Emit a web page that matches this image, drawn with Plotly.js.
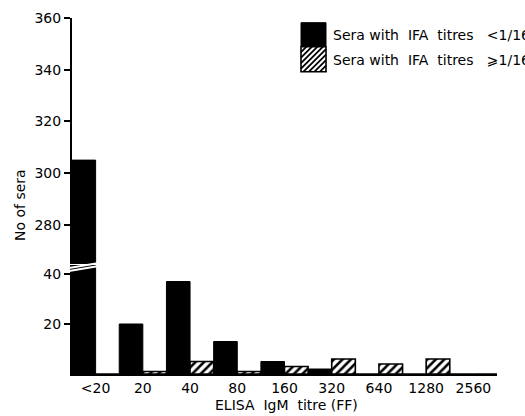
<!DOCTYPE html>
<html>
<head>
<meta charset="utf-8">
<script src="https://cdn.plot.ly/plotly-3.0.1.min.js"></script>
<style>html,body{margin:0;padding:0;background:#fff;}#chart{width:525px;height:416px;}</style>
</head>
<body>
<div id="chart"></div>
<script>
// ---- data ----
var categories = ["<20", "20", "40", "80", "160", "320", "640", "1280", "2560"];
var seraIfaLow = [305, 20, 37, 13, 5, 2, 0, 0, 0];      // Sera with IFA titres <1/16
var seraIfaHigh = [0, 1, 5, 1, 3, 6, 4, 6, 0];          // Sera with IFA titres >=1/16
var lowerTicks = [20, 40];
var upperTicks = [280, 300, 320, 340, 360];
var NB = "\u00a0";
var legendLabels = ["Sera with" + NB + NB + "IFA" + NB + NB + "titres" + NB + NB + NB + "<1/16",
                    "Sera with" + NB + NB + "IFA" + NB + NB + "titres" + NB + NB + NB + "\u2a7e1/16"];

// ---- layout geometry (pixels) ----
var W = 525, H = 416;
var L = 72, R = 497, T = 18, B = 374;
function px(x) { return (x - L) / (R - L); }
function py(y) { return (B - y) / (B - T); }

var FONT = "DejaVu Sans";
var lowerTop = 265, upperBottom = 264;

function blackBars(axis) {
  return { type: "bar", x: categories, y: seraIfaLow, xaxis: "x", yaxis: axis,
    marker: { color: "black", line: { color: "black", width: 1 } },
    offsetgroup: "a", hoverinfo: "none" };
}
function hatchBars(axis) {
  return { type: "bar", x: categories, y: seraIfaHigh, xaxis: "x", yaxis: axis,
    marker: { color: "white", line: { color: "black", width: 1.6 },
      pattern: { shape: "/", size: 6, solidity: 0.42, fgcolor: "black", bgcolor: "white" } },
    offsetgroup: "b", hoverinfo: "none" };
}

var lowerRangeTop = (B - lowerTop) / 2.5;
var upperPx = (225 - 18.3) / 80;
var upperRangeBottom = 360 - (upperBottom - T) / upperPx;

// legend boxes
var bx0 = 301, bx1 = 326, by0 = 22.7, bym = 46.7, by1 = 71.7;
var hatchPath = "";
(function () {
  var step = 5.5;
  for (var s = -25; s < 30; s += step) {
    var x0 = bx0 + s, y0 = by1, x1 = bx0 + s + (by1 - bym), y1 = bym;
    if (x0 < bx0) { y0 -= (bx0 - x0); x0 = bx0; }
    if (x1 > bx1) { y1 += (x1 - bx1); x1 = bx1; }
    if (x1 <= x0) continue;
    hatchPath += "M" + px(x0) + "," + py(y0) + "L" + px(x1) + "," + py(y1);
  }
})();

var shapes = [
  { type: "rect", xref: "paper", yref: "paper", x0: px(bx0), x1: px(bx1), y0: py(bym), y1: py(by0),
    fillcolor: "black", line: { color: "black", width: 1 } },
  { type: "rect", xref: "paper", yref: "paper", x0: px(bx0), x1: px(bx1), y0: py(by1), y1: py(bym),
    fillcolor: "white", line: { color: "black", width: 1.6 } },
  { type: "path", xref: "paper", yref: "paper", path: hatchPath, line: { color: "black", width: 1.8 } },
  // axis break marks
  { type: "line", xref: "paper", yref: "paper", x0: px(66), y0: py(268.5), x1: px(102), y1: py(262.5),
    line: { color: "white", width: 1.8 } },
  { type: "line", xref: "paper", yref: "paper", x0: px(66), y0: py(271.5), x1: px(102), y1: py(265.5),
    line: { color: "white", width: 1.8 } }
];

var annotations = [
  { xref: "paper", yref: "paper", x: px(331), y: py(35.5), xanchor: "left", yanchor: "middle",
    text: legendLabels[0], showarrow: false, font: { family: FONT, size: 14, color: "black" } },
  { xref: "paper", yref: "paper", x: px(331), y: py(60), xanchor: "left", yanchor: "middle",
    text: legendLabels[1], showarrow: false, font: { family: FONT, size: 14, color: "black" } },
  { xref: "paper", yref: "paper", x: px(20), y: py(205), xanchor: "center", yanchor: "middle",
    text: "No of sera", textangle: -90, showarrow: false, font: { family: FONT, size: 14, color: "black" } },
  { xref: "paper", yref: "paper", x: px(286), y: py(405), xanchor: "center", yanchor: "middle",
    text: "ELISA" + NB + NB + "IgM" + NB + NB + "titre (FF)", showarrow: false,
    font: { family: FONT, size: 14, color: "black" } }
];

var layout = {
  width: W, height: H,
  margin: { l: L, r: W - R, t: T, b: H - B, pad: 0 },
  paper_bgcolor: "white", plot_bgcolor: "white",
  showlegend: false,
  barmode: "group", bargap: 0, bargroupgap: 0,
  font: { family: FONT, size: 14, color: "black" },
  xaxis: {
    type: "category", range: [-0.5, 8.5], anchor: "y",
    showline: true, linecolor: "black", linewidth: 2,
    ticks: "", showgrid: false, zeroline: false,
    tickfont: { family: FONT, size: 14, color: "black" },
    ticklabelstandoff: 0
  },
  yaxis: {
    domain: [0, py(lowerTop)], range: [0, lowerRangeTop], anchor: "x",
    showline: true, linecolor: "black", linewidth: 2,
    ticks: "outside", ticklen: 6, tickwidth: 2, tickcolor: "black",
    tickmode: "array", tickvals: lowerTicks, ticktext: lowerTicks.map(String),
    showgrid: false, zeroline: false,
    tickfont: { family: FONT, size: 14, color: "black" }
  },
  yaxis2: {
    domain: [py(upperBottom), 1], range: [upperRangeBottom, 360], anchor: "x",
    showline: true, linecolor: "black", linewidth: 2,
    ticks: "outside", ticklen: 6, tickwidth: 2, tickcolor: "black",
    tickmode: "array", tickvals: upperTicks, ticktext: upperTicks.map(String),
    showgrid: false, zeroline: false,
    tickfont: { family: FONT, size: 14, color: "black" }
  },
  shapes: shapes,
  annotations: annotations
};

Plotly.newPlot("chart", [blackBars("y"), hatchBars("y"), blackBars("y2"), hatchBars("y2")], layout,
  { staticPlot: true, displayModeBar: false });
</script>
</body>
</html>
